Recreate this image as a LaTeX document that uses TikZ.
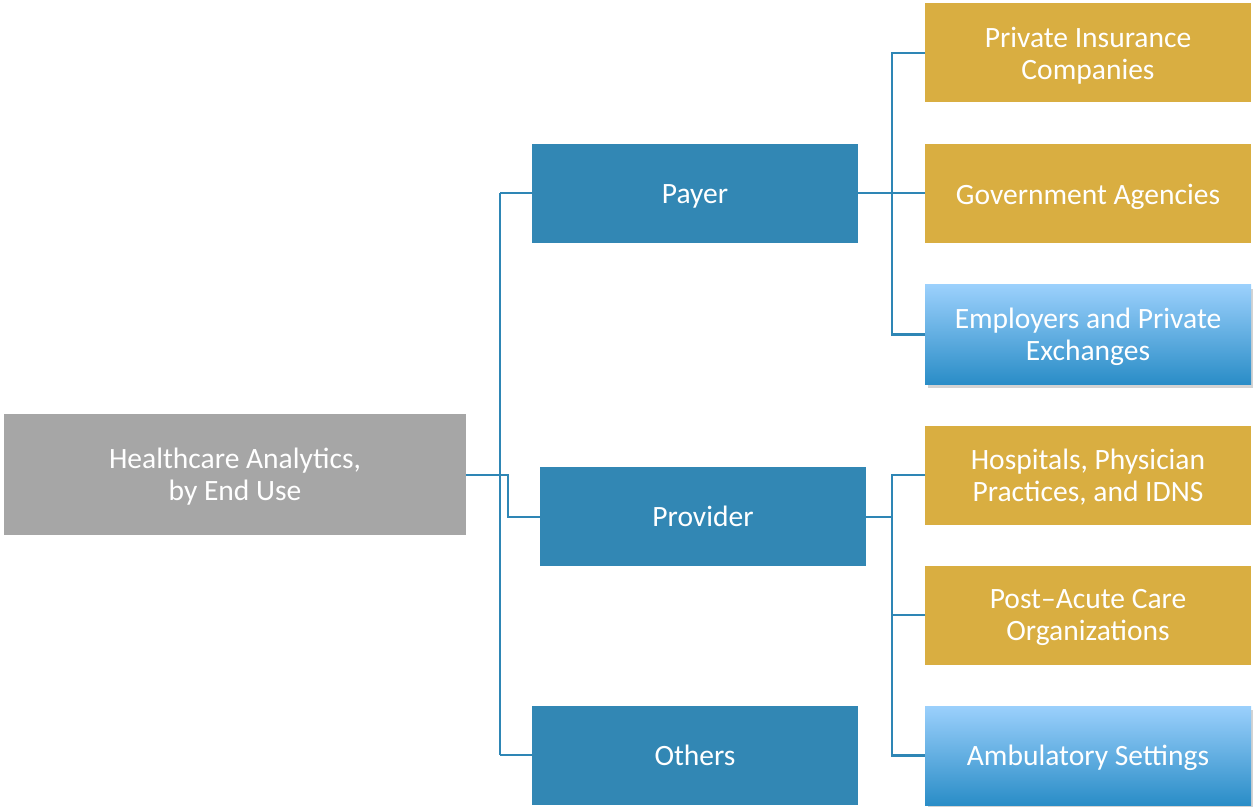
\documentclass[tikz,border=0pt]{standalone}
\usepackage{fontspec}
\setmainfont{Carlito}
\usetikzlibrary{shadows}
\definecolor{catblue}{HTML}{3287B4}
\definecolor{leafgold}{HTML}{D9AE41}
\definecolor{rootgray}{HTML}{A6A6A6}
\definecolor{linkblue}{HTML}{2E86B5}
\definecolor{gradtop}{HTML}{9BD0FC}
\definecolor{gradbot}{HTML}{2A8DC7}
\tikzset{
  box/.style={draw=none, text=white, align=center, inner sep=0pt,
    inner ysep=0pt, text depth=0pt,
    font=\fontsize{16.8}{18.3}\selectfont},
  rootbox/.style={box, fill=rootgray, minimum width=462*0.02cm, minimum height=121*0.02cm},
  catbox/.style={box, fill=catblue, minimum width=326*0.02cm, minimum height=99*0.02cm},
  leafbox/.style={box, fill=leafgold, minimum width=326*0.02cm, minimum height=99*0.02cm},
  gradbox/.style={box, top color=gradtop, bottom color=gradbot,
    minimum width=326*0.02cm, minimum height=99*0.02cm,
    drop shadow={shadow xshift=0.06cm, shadow yshift=-0.08cm, opacity=0.35}},
  link/.style={draw=linkblue, line width=1.15pt},
}
\begin{document}
\begin{tikzpicture}[x=0.02cm, y=-0.02cm]
\useasboundingbox (0,0) rectangle (1253,807);
% root
\node[rootbox] (root) at (235,474.5) {Healthcare Analytics,\\by End Use};
% categories
\node[catbox] (payer) at (695,194) {Payer};
\node[catbox] (provider) at (703,516.5) {Provider};
\node[catbox] (others) at (695,755.5) {Others};
% leaves under payer
\node[leafbox] (pic) at (1088,53) {Private Insurance\\Companies};
\node[leafbox] (gov) at (1088,194) {Government Agencies};
\node[gradbox] (emp) at (1088,334.5) {Employers and Private\\Exchanges};
% leaves under provider
\node[leafbox] (hosp) at (1088,475) {Hospitals, Physician\\Practices, and IDNS};
\node[leafbox] (post) at (1088,615) {Post--Acute Care\\Organizations};
\node[gradbox] (amb) at (1088,755.5) {Ambulatory Settings};
% trunk
\coordinate (trunktop) at (500,193);
\coordinate (trunkbot) at (500,755);
\draw[link] (trunktop) -- (trunkbot);
\draw[link] (trunktop) -- (payer.west |- trunktop);
\draw[link] (trunkbot) -- (others.west |- trunkbot);
\draw[link] (root.east |- 0,475) -- (508,475) |- (provider.west |- 0,517);
% payer branch
\coordinate (pbus) at (892,193);
\draw[link] (payer.east |- pbus) -- (gov.west |- pbus);
\draw[link] (pic.west) -| (pbus) |- (emp.west);
% provider branch
\coordinate (vbus) at (892,517);
\draw[link] (provider.east |- vbus) -- (vbus);
\draw[link] (hosp.west) -| (vbus) |- (amb.west);
\draw[link] (post.west) -- (post.west -| vbus);
\end{tikzpicture}
\end{document}
